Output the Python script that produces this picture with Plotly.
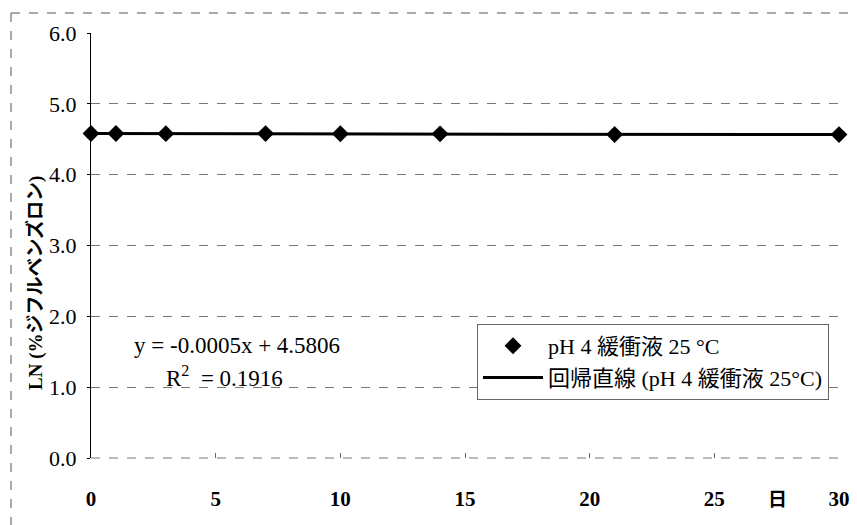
import plotly.graph_objects as go

days = [0, 1, 3, 7, 10, 14, 21, 30]
ln_values = [4.581, 4.582, 4.579, 4.580, 4.578, 4.576, 4.568, 4.566]
fit_x = [0, 30]
fit_y = [4.5806, 4.5656]
y_ticks = [0, 1, 2, 3, 4, 5, 6]
y_tick_labels = ["0.0", "1.0", "2.0", "3.0", "4.0", "5.0", "6.0"]
x_ticks = [0, 5, 10, 15, 20, 25, 30]
x_tick_labels = ["<b>0</b>", "<b>5</b>", "<b>10</b>", "<b>15</b>", "<b>20</b>", "<b>25</b>", "<b>30</b>"]

serif = "Liberation Serif, Noto Sans CJK JP, serif"

fig = go.Figure()
fig.add_trace(go.Scatter(
    x=days, y=ln_values, mode="markers", name="pH 4 緩衝液 25 °C",
    marker=dict(symbol="diamond", size=13, color="black"), cliponaxis=False))
fig.add_trace(go.Scatter(
    x=fit_x, y=fit_y, mode="lines", name="回帰直線 (pH 4 緩衝液 25°C)",
    line=dict(color="black", width=3), cliponaxis=False))

fig.update_layout(
    width=857, height=525,
    margin=dict(l=91, r=18, t=33, b=67, autoexpand=False),
    paper_bgcolor="white", plot_bgcolor="white",
    font=dict(family=serif, size=21, color="black"),
    showlegend=True,
    legend=dict(x=(477 - 91) / 748, y=(458 - 324) / 425, xanchor="left", yanchor="top",
                bgcolor="white", bordercolor="#666", borderwidth=1,
                font=dict(family=serif, size=22), itemwidth=60,
                tracegroupgap=4),
    xaxis=dict(range=[0, 30], tickmode="array", tickvals=x_ticks,
               ticktext=x_tick_labels, automargin=False,
               showgrid=False, zeroline=False, showline=False,
               ticks="inside", ticklen=5, tickcolor="#666",
               ticklabelstandoff=26,
               tickfont=dict(family=serif, size=21)),
    yaxis=dict(range=[0, 6], tickmode="array", tickvals=y_ticks,
               ticktext=y_tick_labels, automargin=False,
               showgrid=True, gridcolor="#777", griddash="dash", gridwidth=1,
               zeroline=False, showline=True, linecolor="black", linewidth=1,
               ticks="outside", ticklen=3, tickcolor="black",
               ticklabelstandoff=6,
               tickfont=dict(family=serif, size=22)),
)

fig.add_annotation(text="<b>LN (%ジフルベンズロン)</b>", xref="paper", yref="paper",
                   x=(35 - 91) / 748, y=(458 - 283) / 425, textangle=-90,
                   xanchor="center", yanchor="middle",
                   showarrow=False, font=dict(family=serif, size=19))
fig.add_annotation(text="<b>日</b>", xref="paper", yref="paper",
                   x=(777 - 91) / 748, y=(458 - 499) / 425,
                   xanchor="center", yanchor="middle",
                   showarrow=False, font=dict(family=serif, size=19))
fig.add_annotation(text="y = -0.0005x + 4.5806", xref="paper", yref="paper",
                   x=(132 - 91) / 748, y=(458 - 345) / 425, xanchor="left",
                   yanchor="middle",
                   showarrow=False, font=dict(family=serif, size=23))
fig.add_annotation(text="R<sup>2</sup>  = 0.1916", xref="paper", yref="paper",
                   x=(164 - 91) / 748, y=(458 - 376) / 425, xanchor="left",
                   yanchor="middle",
                   showarrow=False, font=dict(family=serif, size=23))

# outer frame (dashed)
fig.add_shape(type="line", xref="paper", yref="paper",
              x0=(11 - 91) / 748, x1=(857 - 91) / 748,
              y0=(458 - 13) / 425, y1=(458 - 13) / 425,
              line=dict(color="#555", width=1, dash="dash"))
fig.add_shape(type="line", xref="paper", yref="paper",
              x0=(11 - 91) / 748, x1=(11 - 91) / 748,
              y0=(458 - 13) / 425, y1=(458 - 525) / 425,
              line=dict(color="#555", width=1, dash="dash"))
# bottom axis line (faint dashed)
fig.add_shape(type="line", xref="paper", yref="paper",
              x0=0, x1=1, y0=0, y1=0,
              line=dict(color="#777", width=1, dash="dash"))

fig.write_html("out.html", config={"displayModeBar": False},
               post_script="document.body.style.margin='0px';")
